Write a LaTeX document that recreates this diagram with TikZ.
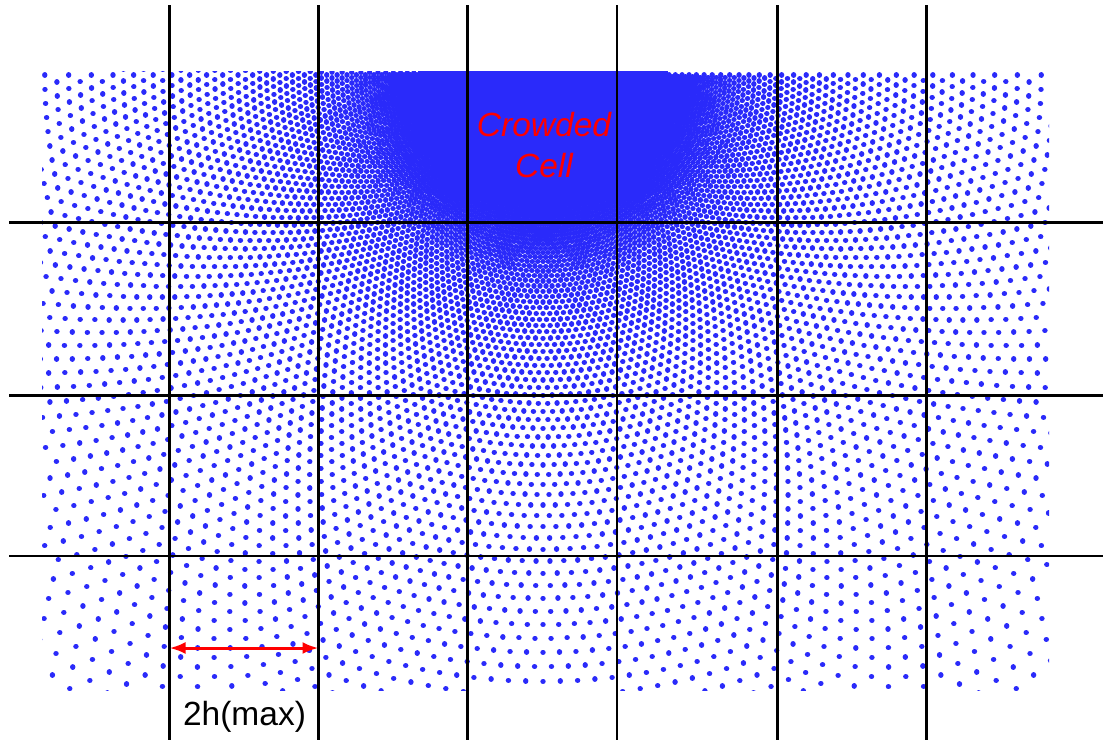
\documentclass[tikz,border=0pt]{standalone}
\usepackage{fontspec}
\setmainfont{Liberation Sans}
\usetikzlibrary{arrows.meta}
\definecolor{sphblue}{RGB}{42,42,250}

\begin{document}
\begin{tikzpicture}[x=1pt, y=-1pt,
    particle/.style={draw=sphblue, line width=5.4pt, line cap=round},
    gridline/.style={draw=black, line width=2.6pt},
    span/.style={draw=red, line width=3pt, {Latex[length=16pt,width=12pt]}-{Latex[length=16pt,width=12pt]}},
    labeltext/.style={font=\fontsize{33.5}{41}\selectfont, inner sep=0pt, align=center}]
    \useasboundingbox (0,0) rectangle (1103,740);

    % particle field, rings get wider away from the crowded cell
    \begin{scope}
        \clip (42,71) rectangle (1049,690);
        \coordinate (src) at (543,75);
        \fill[sphblue] (src) circle[radius=125pt];
        \begin{scope}[shift={(src)}]
            \foreach \k in {0,...,78} {
                \pgfmathsetmacro\ringr{120*1.02485^\k}
                \pgfmathsetmacro\stag{0.5*mod(\k,2)}
                \draw[particle] \foreach \j in {0,...,110} {({(\j+\stag)*1.63636}:\ringr) -- ++(0.01,0)};
            }
        \end{scope}
    \end{scope}

    % cell grid
    \foreach \x in {169.5, 318.5, 467.5, 617, 777.5, 926.5}
        \draw[gridline] (\x,5) -- (\x,740);
    \foreach \y in {222.5, 395.5, 556}
        \draw[gridline] (9,\y) -- (1103,\y);

    \node[labeltext, text=red, font=\fontsize{33.5}{41}\selectfont\itshape] (crowded) at (544,145) {Crowded\\Cell};

    \coordinate (hl) at (169.5,648);
    \coordinate (hr) at (318.5,648);
    \draw[span] (hl) -- (hr);
    \node[labeltext] (hmax) at (244.5,717) {2h(max)};
\end{tikzpicture}
\end{document}
